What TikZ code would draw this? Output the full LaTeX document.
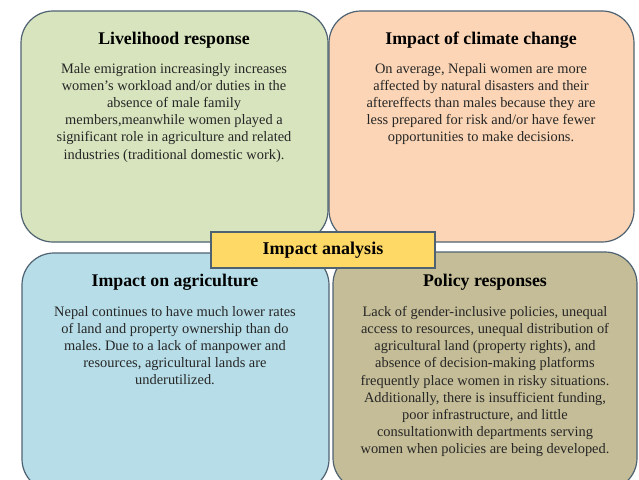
\documentclass[tikz,border=0pt]{standalone}
\usepackage{fontspec}
\setmainfont{Liberation Serif}
\frenchspacing
\definecolor{bordc}{HTML}{4F6272}
\definecolor{greenf}{HTML}{D7E4BD}
\definecolor{peachf}{HTML}{FBD5B5}
\definecolor{bluef}{HTML}{B7DEE8}
\definecolor{khakif}{HTML}{C4BD97}
\definecolor{yellowf}{HTML}{FFD966}
\definecolor{txtc}{HTML}{262626}
\tikzset{
  panel/.style={draw=bordc, line width=1.2pt, rounded corners=32pt, inner sep=0pt},
  ttl/.style={font=\fontsize{17.8}{20}\selectfont\bfseries, text=black, inner sep=0pt},
  body/.style={font=\fontsize{14.4}{17.2}\selectfont, text=txtc, align=center, inner sep=0pt, anchor=north},
  hub/.style={draw=bordc, line width=1.2pt, fill=yellowf, inner sep=0pt, minimum width=224pt, minimum height=36pt, font=\fontsize{18}{20}\selectfont\bfseries}
}
\begin{document}
\begin{tikzpicture}[x=1pt,y=-1pt]
\useasboundingbox (0,0) rectangle (639,479);
\clip (0,0) rectangle (639,479);
\fill[white] (0,0) rectangle (639,479);
\node[panel, fill=greenf, minimum width=307pt, minimum height=231pt] (lr) at (174.5,126.5) {};
\node[panel, fill=peachf, minimum width=305pt, minimum height=231pt] (cc) at (481.5,126.5) {};
\node[panel, fill=bluef, minimum width=307pt, minimum height=238pt] (ag) at (175.5,372) {};
\node[panel, fill=khakif, minimum width=304pt, minimum height=238pt] (po) at (485,371) {};
\node[hub] (ia) at (323,250) {Impact analysis};

\node[ttl] (lrt) at (174,40) {Livelihood response};
\node[body] (lrb) at (174,63) {Male emigration increasingly increases\\women's workload and/or duties in the\\absence of male family\\members,meanwhile women played a\\significant role in agriculture and related\\industries (traditional domestic work).};

\node[ttl] (cct) at (481,40) {Impact of climate change};
\node[body] (ccb) at (481,63) {On average, Nepali women are more\\affected by natural disasters and their\\aftereffects than males because they are\\less prepared for risk and/or have fewer\\opportunities to make decisions.};

\node[ttl] (agt) at (175,282) {Impact on agriculture};
\node[body] (agb) at (175,306) {Nepal continues to have much lower rates\\of land and property ownership than do\\males. Due to a lack of manpower and\\resources, agricultural lands are\\underutilized.};

\node[ttl] (pot) at (485,282) {Policy responses};
\node[body] (pob) at (485,306) {\fontsize{14.4}{16.8}\selectfont Lack of gender-inclusive policies, unequal\\access to resources, unequal distribution of\\agricultural land (property rights), and\\absence of decision-making platforms\\frequently place women in risky situations.\\Additionally, there is insufficient funding,\\poor infrastructure, and little\\consultationwith departments serving\\women when policies are being developed.};
\end{tikzpicture}
\end{document}
